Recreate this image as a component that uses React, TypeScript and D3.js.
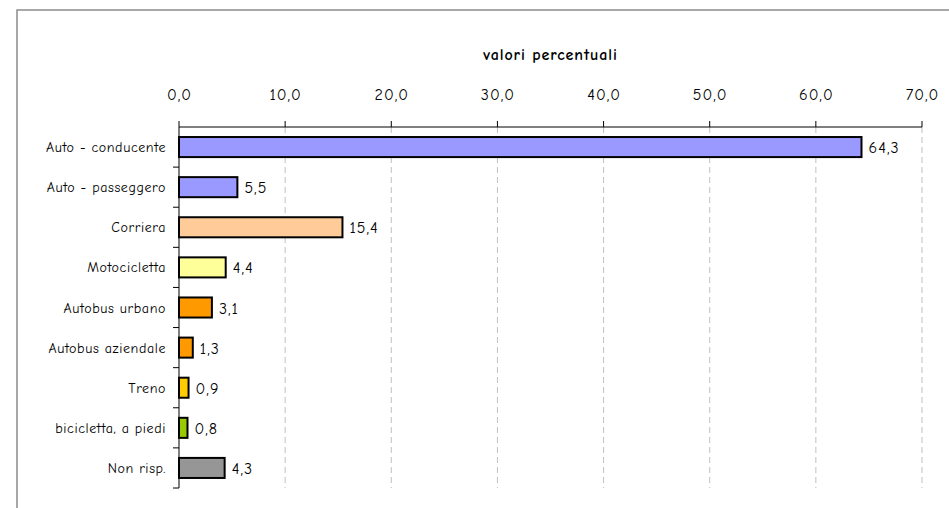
import React from "react";
import * as d3 from "d3";

const categories = [
  "Auto - conducente",
  "Auto - passeggero",
  "Corriera",
  "Motocicletta",
  "Autobus urbano",
  "Autobus aziendale",
  "Treno",
  "bicicletta, a piedi",
  "Non risp.",
];
const values = [64.3, 5.5, 15.4, 4.4, 3.1, 1.3, 0.9, 0.8, 4.3];
const colors = [
  "#9999FF",
  "#9999FF",
  "#FFCC99",
  "#FFFF99",
  "#FF9900",
  "#FF9900",
  "#FFCC00",
  "#99CC00",
  "#969696",
];
const tickValues = [0, 10, 20, 30, 40, 50, 60, 70];
const axisTitle = "valori percentuali";

const W = 949;
const H = 508;
const FONT = "'Comic Sans MS', 'Comic Neue', 'DejaVu Sans', sans-serif";

export default function App() {
  const x = d3.scaleLinear().domain([0, 70]).range([179, 922]);
  const y = d3.scaleBand<string>().domain(categories).range([127, 488]).paddingInner(0.5).paddingOuter(0.25);
  const band = d3.scaleBand<string>().domain(categories).range([127, 488]);
  const fmt = (v: number) => d3.format(".1f")(v).replace(".", ",");
  const x0 = x(0);
  const top = 127;
  const bottom = 488;

  return (
    <svg width={W} height={H} style={{ position: "absolute", left: 0, top: 0 }} fontFamily={FONT}>
      <rect x={0} y={0} width={W} height={H} fill="#fff" />
      <rect x={17} y={10} width={1000} height={600} fill="none" stroke="#8c8c8c" strokeWidth={1.5} />
      {tickValues.slice(1).map((t) => (
        <line key={"g" + t} x1={x(t)} x2={x(t)} y1={top} y2={bottom} stroke="#c0c0c0" strokeDasharray="6,4" strokeWidth={1} />
      ))}
      <text x={(x(0) + x(70)) / 2} y={60} textAnchor="middle" fontSize={16} letterSpacing={0.9} fontWeight="bold" fill="#000">
        {axisTitle}
      </text>
      <line x1={x0} x2={x(70)} y1={top} y2={top} stroke="#000" strokeWidth={1} />
      {tickValues.map((t) => (
        <g key={"t" + t}>
          <line x1={x(t)} x2={x(t)} y1={top - 6} y2={top} stroke="#000" />
          <text x={x(t) + 0.5} y={100} textAnchor="middle" fontSize={16} letterSpacing={1} fill="#000">
            {fmt(t)}
          </text>
        </g>
      ))}
      {categories.map((c, i) => (
        <g key={c}>
          <rect
            x={x0}
            y={y(c)!}
            width={x(values[i]) - x0}
            height={y.bandwidth()}
            fill={colors[i]}
            stroke="#000"
            strokeWidth={2}
          />
          <text x={x(values[i]) + 7} y={y(c)! + y.bandwidth() / 2 + 6} fontSize={16} letterSpacing={1} fill="#000">
            {fmt(values[i])}
          </text>
          <text x={166} y={band(c)! + band.bandwidth() / 2 + 5} textAnchor="end" fontSize={14} letterSpacing={0.6} fill="#000">
            {c}
          </text>
        </g>
      ))}
      <line x1={x0} x2={x0} y1={top} y2={bottom} stroke="#000" strokeWidth={1} />
      {categories.map((c) => (
        <line key={"lt" + c} x1={x0 - 6} x2={x0} y1={band(c)! + band.bandwidth()} y2={band(c)! + band.bandwidth()} stroke="#000" />
      ))}
    </svg>
  );
}
